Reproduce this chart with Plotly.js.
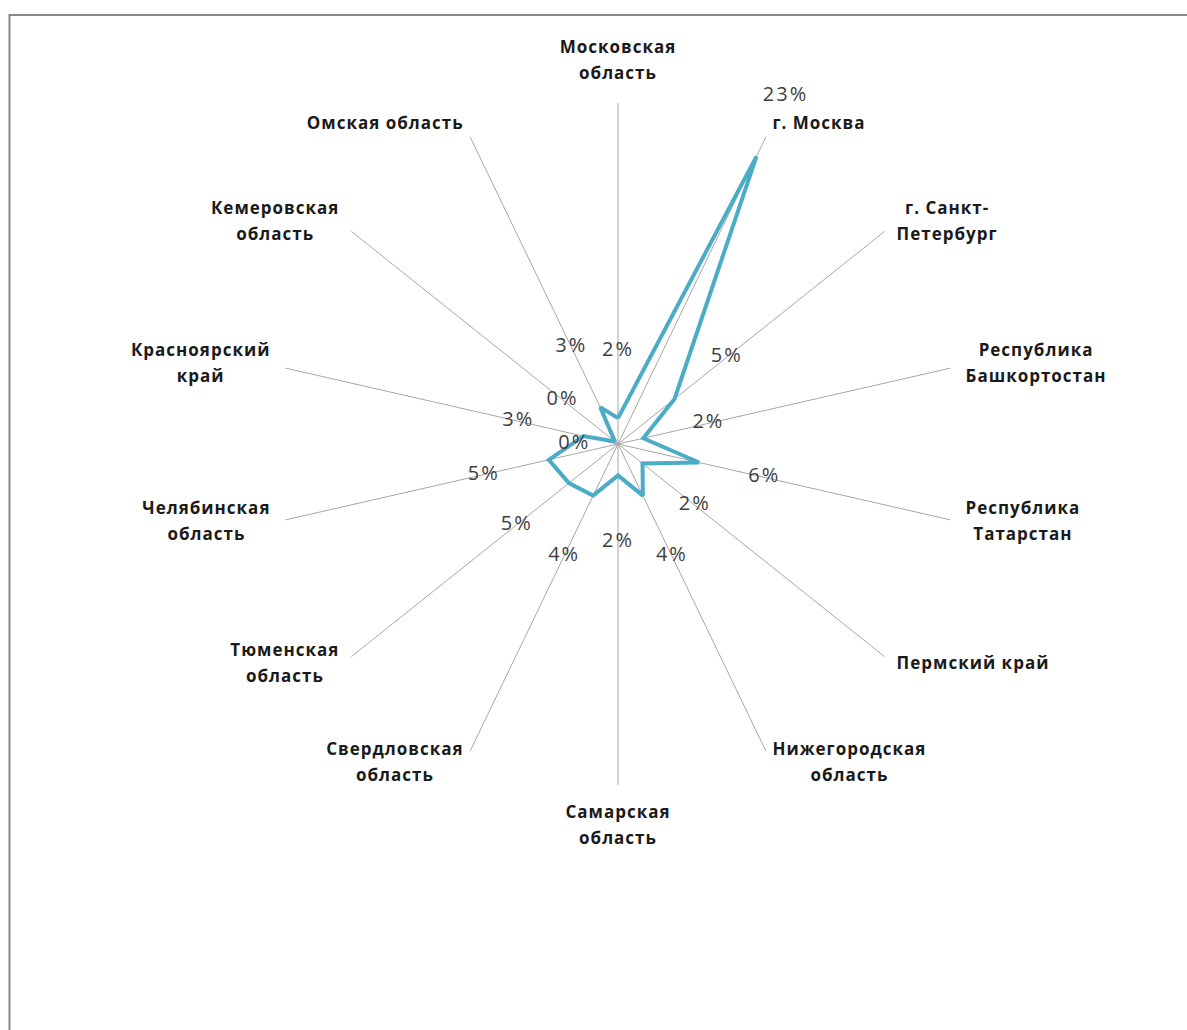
<!DOCTYPE html>
<html>
<head>
<meta charset="utf-8">
<script src="https://cdn.plot.ly/plotly-3.0.1.min.js"></script>
<style>
  html, body { margin: 0; padding: 0; background: #ffffff; }
  #chart { width: 1187px; height: 1030px; }
  #chart .tracevals .textpoint text { letter-spacing: 2px; }
  #chart .tracecats .textpoint text { letter-spacing: 1px; }
</style>
</head>
<body>
<div id="chart"></div>
<script>
// Regions, clockwise from the top spoke ("\n" marks a line break in the label)
const categories = [
  'Московская\nобласть',
  'г. Москва',
  'г. Санкт-\nПетербург',
  'Республика\nБашкортостан',
  'Республика\nТатарстан',
  'Пермский край',
  'Нижегородская\nобласть',
  'Самарская\nобласть',
  'Свердловская\nобласть',
  'Тюменская\nобласть',
  'Челябинская\nобласть',
  'Красноярский\nкрай',
  'Кемеровская\nобласть',
  'Омская область'
];

// Share of each region
const shares = [0.019, 0.234, 0.053, 0.019, 0.061, 0.023, 0.042, 0.023, 0.042, 0.046, 0.052, 0.026, 0.003, 0.030];

// A second zero-valued point whose label sits left of the centre
const zeroPointShares = [0];
const zeroPointAngles = [270];

// ---- geometry of the radar ----
const W = 1187, H = 1030;
const cx = 618, cy = 444;          // centre of the radar, px
const R = 341;                     // spoke length, px
const rMax = 0.25;                 // value at the spoke end
const outerPx = 440;               // polar area radius (room for the labels)
const rOuter = rMax * outerPx / R;
const step = 360 / categories.length;
const angles = categories.map((_, i) => i * step);

const labelOffset = 0.049;          // data labels sit this far beyond their point
const catSize = 17, catWeight = 700, catSpacing = 1, lineGap = 26;
const FAMILY = '"Open Sans", "Noto Sans", sans-serif';

const ctx = document.createElement('canvas').getContext('2d');
ctx.font = catWeight + ' ' + catSize + 'px "Open Sans"';
const textWidth = s => ctx.measureText(s).width + catSpacing * (s.length - 1);

// pixel position -> polar (r, theta) in data units
function toPolar(x, y) {
  const dx = x - cx, dy = y - cy;
  let th = Math.atan2(dx, -dy) * 180 / Math.PI;
  if (th < 0) th += 360;
  return { r: Math.hypot(dx, dy) / R * rMax, th };
}

// category labels: one text point per line, block placed just outside the spoke end
const catR = [], catTh = [], catText = [];
categories.forEach((name, i) => {
  const lines = name.split('\n');
  const a = angles[i] * Math.PI / 180;
  const s = Math.sin(a), c = Math.cos(a);
  const ex = cx + R * s, ey = cy - R * c;
  const w = Math.max(...lines.map(textWidth));
  const n = lines.length;
  const blockH = lineGap * (n - 1) + catSize;
  let bx, by;
  if (Math.abs(s) < 0.01) {
    bx = ex;
    by = ey - Math.sign(c) * (blockH / 2 + 20);
  } else {
    bx = ex + Math.sign(s) * (w / 2 + 16 * Math.abs(s));
    by = ey - 13.5 * c;
  }
  lines.forEach((ln, j) => {
    const p = toPolar(bx, by + (j - (n - 1) / 2) * lineGap);
    catR.push(p.r); catTh.push(p.th); catText.push(ln);
  });
});

// spokes from the centre to the spoke end
const spokeR = [], spokeTh = [];
angles.forEach(a => { spokeR.push(0, rMax, null); spokeTh.push(a, a, null); });

const pct = v => Math.round(v * 100) + '%';

const traces = [
  {
    type: 'scatterpolar',
    uid: 'spokes',
    mode: 'lines',
    r: spokeR,
    theta: spokeTh,
    line: { color: '#a6a6a6', width: 1 },
    connectgaps: false,
    hoverinfo: 'skip'
  },
  {
    type: 'scatterpolar',
    uid: 'shares',
    mode: 'lines',
    r: shares.concat([shares[0]]),
    theta: angles.concat([angles[0]]),
    line: { color: '#4BACC6', width: 4 },
    hoverinfo: 'skip'
  },
  {
    type: 'scatterpolar',
    uid: 'vals',
    mode: 'text',
    r: shares.map(v => v + labelOffset).concat(zeroPointShares.map(v => v + 0.032)),
    theta: angles.concat(zeroPointAngles),
    text: shares.map(pct).concat(zeroPointShares.map(pct)),
    textposition: 'middle center',
    textfont: { family: FAMILY, size: 20, color: '#404040' },
    cliponaxis: false,
    hoverinfo: 'skip'
  },
  {
    type: 'scatterpolar',
    uid: 'cats',
    mode: 'text',
    r: catR,
    theta: catTh,
    text: catText,
    textposition: 'middle center',
    textfont: { family: FAMILY, size: catSize, color: '#1a1a1a', weight: catWeight },
    cliponaxis: false,
    hoverinfo: 'skip'
  }
];

const layout = {
  width: W,
  height: H,
  margin: { l: 0, r: 0, t: 0, b: 0 },
  paper_bgcolor: '#ffffff',
  showlegend: false,
  polar: {
    domain: {
      x: [(cx - outerPx) / W, (cx + outerPx) / W],
      y: [1 - (cy + outerPx) / H, 1 - (cy - outerPx) / H]
    },
    bgcolor: 'rgba(0,0,0,0)',
    radialaxis: { range: [0, rOuter], visible: false, showgrid: false, showline: false, showticklabels: false, ticks: '' },
    angularaxis: {
      type: 'linear', thetaunit: 'degrees', rotation: 90, direction: 'clockwise',
      showticklabels: false, ticks: '', showline: false, showgrid: false
    }
  },
  shapes: [{
    type: 'rect', xref: 'paper', yref: 'paper',
    x0: 9.5 / W, x1: 1.05, y0: -0.05, y1: 1 - 15 / H,
    line: { color: '#878787', width: 2 }, fillcolor: 'rgba(0,0,0,0)'
  }]
};

Plotly.newPlot('chart', traces, layout, { staticPlot: true, displayModeBar: false });
</script>
</body>
</html>
